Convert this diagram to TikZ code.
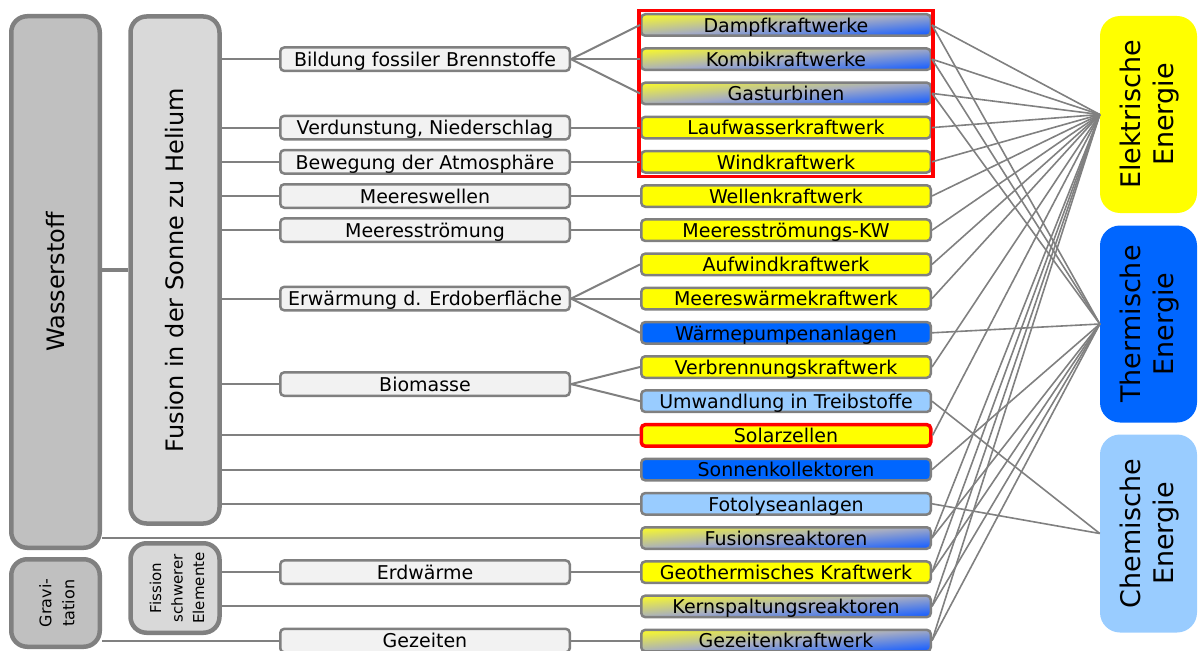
\documentclass[tikz,border=0pt]{standalone}
\usepackage{fontspec}
\setmainfont{DejaVu Sans}
\usetikzlibrary{calc}
\definecolor{lgray}{HTML}{808080}
\definecolor{boxfill}{HTML}{F2F2F2}
\definecolor{ylw}{HTML}{FFFF00}
\definecolor{blu}{HTML}{0066FF}
\definecolor{lblu}{HTML}{99CCFF}
\definecolor{darkfill}{HTML}{C0C0C0}
\definecolor{midfill}{HTML}{D9D9D9}
\definecolor{gtop}{RGB}{245,245,50}
\definecolor{gmid}{RGB}{165,172,196}
\definecolor{gbot}{RGB}{25,95,255}
\tikzset{
  boxfont/.style={font=\fontsize{19}{21}\selectfont, text height=17.4pt, text depth=3pt},
  midbox/.style={draw=lgray, line width=2.5pt, fill=boxfill, rounded corners=4pt,
    minimum width=289.5pt, minimum height=23.5pt, inner sep=0pt, boxfont},
  rbox/.style={draw=lgray, line width=2.5pt, rounded corners=4pt,
    minimum width=289.5pt, minimum height=21.5pt, inner sep=0pt, boxfont},
  yel/.style={rbox, fill=ylw},
  bl/.style={rbox, fill=blu},
  lbl/.style={rbox, fill=lblu},
  grad/.style={rbox, top color=gtop, bottom color=gbot, middle color=gmid, shading angle=4.7},
  conn/.style={draw=lgray, line width=2pt},
  econn/.style={draw=lgray, line width=1.6pt},
  bigbox/.style={draw=lgray, line width=4.5pt, rounded corners=16pt, inner sep=0pt},
  ebox/.style={rounded corners=20pt, inner sep=0pt},
  redframe/.style={draw=red, line width=3.5pt},
}
\begin{document}
\begin{tikzpicture}[x=1pt,y=-1pt]
\useasboundingbox (0,0) rectangle (1198,650);
\clip (0,0) rectangle (1198,650);

% left big boxes
\node[bigbox, fill=darkfill, minimum width=88.5pt, minimum height=531.5pt] (wasser) at (55.5,282) {};
\node[rotate=90, font=\fontsize{24}{28}\selectfont] (wassertxt) at (wasser) {Wasserstoff};
\node[bigbox, fill=midfill, minimum width=89pt, minimum height=507pt] (fusion) at (175,270) {};
\node[rotate=90, font=\fontsize{24}{28}\selectfont] (fusiontxt) at (fusion) {Fusion in der Sonne zu Helium};
\node[bigbox, fill=darkfill, minimum width=88.5pt, minimum height=87.5pt] (grav) at (55.5,603) {};
\node[rotate=90, align=center, font=\fontsize{16}{23}\selectfont] (gravtxt) at (57,603) {Gravi-\\tation};
\node[bigbox, fill=midfill, minimum width=89pt, minimum height=89.5pt] (fiss) at (175,588) {};
\node[rotate=90, align=center, font=\fontsize{15}{21.5}\selectfont] (fisstxt) at (177,588) {Fission\\schwerer\\Elemente};

% middle boxes
\node[midbox] (bild) at (425,59.2) {Bildung fossiler Brennstoffe};
\node[midbox] (verd) at (425,127.6) {Verdunstung, Niederschlag};
\node[midbox] (bew) at (425,161.8) {Bewegung der Atmosphäre};
\node[midbox] (mwell) at (425,196) {Meereswellen};
\node[midbox] (mstr) at (425,230.2) {Meeresströmung};
\node[midbox] (erw) at (425,298.6) {Erwärmung d. Erdoberfläche};
\node[midbox] (bio) at (425,384.1) {Biomasse};
\node[midbox] (erdw) at (425,572.2) {Erdwärme};
\node[midbox] (gez) at (425,640.6) {Gezeiten};

% right boxes
\node[grad] (dampf) at (786,25) {Dampfkraftwerke};
\node[grad] (kombi) at (786,59.2) {Kombikraftwerke};
\node[grad] (gas) at (786,93.4) {Gasturbinen};
\node[yel] (lauf) at (786,127.6) {Laufwasserkraftwerk};
\node[yel] (wind) at (786,161.8) {Windkraftwerk};
\node[yel] (wellen) at (786,196) {Wellenkraftwerk};
\node[yel] (mskw) at (786,230.2) {Meeresströmungs-KW};
\node[yel] (aufw) at (786,264.4) {Aufwindkraftwerk};
\node[yel] (mwkw) at (786,298.6) {Meereswärmekraftwerk};
\node[bl] (wpump) at (786,332.8) {Wärmepumpenanlagen};
\node[yel] (verbr) at (786,367) {Verbrennungskraftwerk};
\node[lbl] (umw) at (786,401.2) {Umwandlung in Treibstoffe};
\node[yel, draw=red, line width=3.5pt] (solar) at (786,435.4) {Solarzellen};
\node[bl] (sonnk) at (786,469.6) {Sonnenkollektoren};
\node[lbl] (foto) at (786,503.8) {Fotolyseanlagen};
\node[grad] (fusr) at (786,538) {Fusionsreaktoren};
\node[yel] (geo) at (786,572.2) {Geothermisches Kraftwerk};
\node[grad] (kern) at (786,606.4) {Kernspaltungsreaktoren};
\node[grad] (gezkw) at (786,640.6) {Gezeitenkraftwerk};

% red frame around first five
\draw[redframe] ($(dampf.north west)+(-1,-2.5)$) rectangle ($(wind.south east)+(1,2.5)$);

% energy boxes
\node[ebox, fill=ylw, minimum width=97pt, minimum height=197pt] (elek) at (1148.5,114.5) {};
\node[rotate=90, align=center, font=\fontsize{27}{33}\selectfont] (elektxt) at (1150,114.5) {Elektrische\\Energie};
\node[ebox, fill=blu, minimum width=97pt, minimum height=197pt] (therm) at (1148.5,324) {};
\node[rotate=90, align=center, font=\fontsize{27}{33}\selectfont] (thermtxt) at (1150,324) {Thermische\\Energie};
\node[ebox, fill=lblu, minimum width=97pt, minimum height=198pt] (chem) at (1148.5,533.5) {};
\node[rotate=90, align=center, font=\fontsize{27}{33}\selectfont] (chemtxt) at (1150,533.5) {Chemische\\Energie};

% left connectors
\draw[draw=lgray, line width=4pt] (wasser.east |- fusion.center) -- (fusion.west);
\foreach \m in {bild,verd,bew,mwell,mstr,erw,bio}
  \draw[conn] (fusion.east |- \m.west) -- (\m.west);
\foreach \r in {solar,sonnk,foto}
  \draw[conn] (fusion.east |- \r.west) -- (\r.west);
\draw[conn] (wasser.east |- fusr.west) -- (fusr.west);
\draw[conn] (fiss.east |- erdw.west) -- (erdw.west);
\draw[conn] (fiss.east |- kern.west) -- (kern.west);
\draw[conn] (grav.east |- gez.west) -- (gez.west);

% middle to right
\foreach \r in {dampf,kombi,gas} \draw[conn] (bild.east) -- (\r.west);
\draw[conn] (verd.east) -- (lauf.west);
\draw[conn] (bew.east) -- (wind.west);
\draw[conn] (mwell.east) -- (wellen.west);
\draw[conn] (mstr.east) -- (mskw.west);
\foreach \r in {aufw,mwkw,wpump} \draw[conn] (erw.east) -- (\r.west);
\foreach \r in {verbr,umw} \draw[conn] (bio.east) -- (\r.west);
\draw[conn] (erdw.east) -- (geo.west);
\draw[conn] (gez.east) -- (gezkw.west);

% right to energy
\foreach \r in {dampf,kombi,gas,lauf,wind,wellen,mskw,aufw,mwkw,verbr,solar,fusr,geo,kern,gezkw}
  \draw[econn] (\r.east) -- (elek.west);
\foreach \r in {dampf,kombi,gas,wpump,sonnk,fusr,geo,kern,gezkw}
  \draw[econn] (\r.east) -- (therm.west);
\foreach \r in {umw,foto}
  \draw[econn] (\r.east) -- (chem.west);
\end{tikzpicture}
\end{document}
